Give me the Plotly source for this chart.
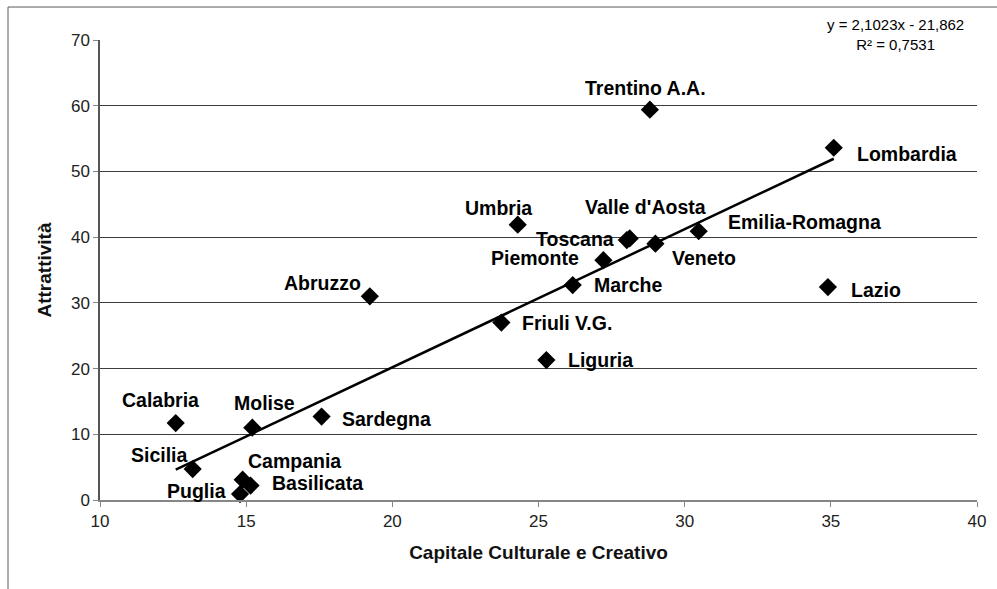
import numpy as np
import plotly.graph_objects as go

# Italian regions: cultural & creative capital vs. attractiveness
regions = [
    "Trentino A.A.", "Lombardia", "Umbria", "Valle d'Aosta", "Toscana",
    "Piemonte", "Veneto", "Emilia-Romagna", "Marche", "Lazio", "Abruzzo",
    "Friuli V.G.", "Liguria", "Calabria", "Molise", "Sardegna", "Sicilia",
    "Campania", "Basilicata", "Puglia",
]
capitale = [
    28.81, 35.10, 24.29, 28.12, 28.02,
    27.22, 29.00, 30.48, 26.17, 34.90, 19.23,
    23.73, 25.27, 12.59, 15.21, 17.58, 13.17,
    14.88, 15.15, 14.79,
]
attrattivita = [
    59.4, 53.6, 41.9, 39.8, 39.55,
    36.5, 39.0, 40.9, 32.7, 32.4, 31.0,
    27.0, 21.3, 11.7, 11.0, 12.7, 4.7,
    3.1, 2.2, 0.9,
]

# Linear trend reported on the chart
slope, intercept = 2.1023, -21.862
r_squared = 0.7531

x_ticks = [10, 15, 20, 25, 30, 35, 40]
y_ticks = [0, 10, 20, 30, 40, 50, 60, 70]
grid_vals = [10, 20, 30, 40, 50, 60]

# Label placement: (xanchor, xshift px, yshift px)
label_pos = {
    "Trentino A.A.": ("center", -4, 22),
    "Lombardia": ("left", 21, -6),
    "Umbria": ("center", -19, 17),
    "Valle d'Aosta": ("center", 16, 31),
    "Toscana": ("right", -11, 1),
    "Piemonte": ("right", -22, 2),
    "Veneto": ("left", 15, -14),
    "Emilia-Romagna": ("left", 27, 9),
    "Marche": ("left", 19, 0),
    "Lazio": ("left", 21, -3),
    "Abruzzo": ("right", -7, 13),
    "Friuli V.G.": ("left", 19, 0),
    "Liguria": ("left", 20, 0),
    "Calabria": ("center", -15, 23),
    "Molise": ("center", 12, 25),
    "Sardegna": ("left", 18, -2),
    "Sicilia": ("right", -3, 14),
    "Campania": ("left", 3, 19),
    "Basilicata": ("left", 19, 3),
    "Puglia": ("right", -12, 3),
}

FONT = "Liberation Sans, Arial, sans-serif"

fig = go.Figure()

# Trend line across the observed range (on the grid axis so it gets drawn)
tx = np.array([min(capitale), max(capitale)])
fig.add_trace(go.Scatter(
    x=tx, y=slope * tx + intercept, mode="lines", yaxis="y2",
    line=dict(color="black", width=2.5), hoverinfo="skip", showlegend=False,
))

fig.add_trace(go.Scatter(
    x=capitale, y=attrattivita, mode="markers", text=regions,
    marker=dict(symbol="diamond", size=14, color="black", line=dict(width=0)),
    showlegend=False, cliponaxis=False,
))

annotations = []
for name, xv, yv in zip(regions, capitale, attrattivita):
    anchor, dx, dy = label_pos[name]
    annotations.append(dict(
        x=xv, y=yv, xref="x", yref="y", text=name, showarrow=False,
        xanchor=anchor, yanchor="middle", xshift=dx, yshift=dy,
        font=dict(family=FONT, size=19.5, color="black", weight="bold"),
    ))

eq_text = (f"y = {slope:.4f}x - {abs(intercept):.3f}".replace(".", ",")
           + "<br>" + f"R² = {r_squared:.4f}".replace(".", ","))
annotations.append(dict(
    x=0.9075, y=1.013, xref="paper", yref="paper", text=eq_text,
    showarrow=False, xanchor="center", yanchor="middle", align="center",
    font=dict(family=FONT, size=15, color="black"),
))

# Outer chart frame (top and left edges)
frame = dict(type="line", xref="paper", yref="paper",
             line=dict(color="#5a5a5a", width=1))
shapes = [
    dict(frame, x0=-0.1049, x1=1.1, y0=1.0717, y1=1.0717),
    dict(frame, x0=-0.1049, x1=-0.1049, y0=1.0717, y1=-0.3),
]

fig.update_layout(
    width=997, height=589,
    margin=dict(l=100, r=20, t=40, b=89),
    paper_bgcolor="white", plot_bgcolor="white",
    font=dict(family=FONT, color="#222"),
    annotations=annotations, shapes=shapes,
    xaxis=dict(
        range=[10, 40], tickvals=x_ticks, showgrid=False, zeroline=False,
        showline=True, linecolor="#868686", linewidth=1.5,
        ticks="outside", ticklen=5, tickcolor="#868686",
        tickfont=dict(size=17, color="#222"),
        title=dict(text="Capitale Culturale e Creativo", standoff=16,
                   font=dict(size=19, color="#111", weight="bold")),
    ),
    yaxis=dict(
        range=[0, 70], tickvals=y_ticks, showgrid=False, zeroline=False,
        showline=True, linecolor="#555555", linewidth=1.5,
        ticks="outside", ticklen=5, tickcolor="#868686",
        tickfont=dict(size=17, color="#222"),
        title=dict(text="Attrattività", standoff=14,
                   font=dict(size=19, color="#111", weight="bold")),
    ),
    yaxis2=dict(
        range=[0, 70], overlaying="y", tickvals=grid_vals, showgrid=True,
        gridcolor="#3c3c3c", gridwidth=1, showticklabels=False,
        zeroline=False, showline=False, ticks="",
    ),
)

fig.write_html("out.html")
